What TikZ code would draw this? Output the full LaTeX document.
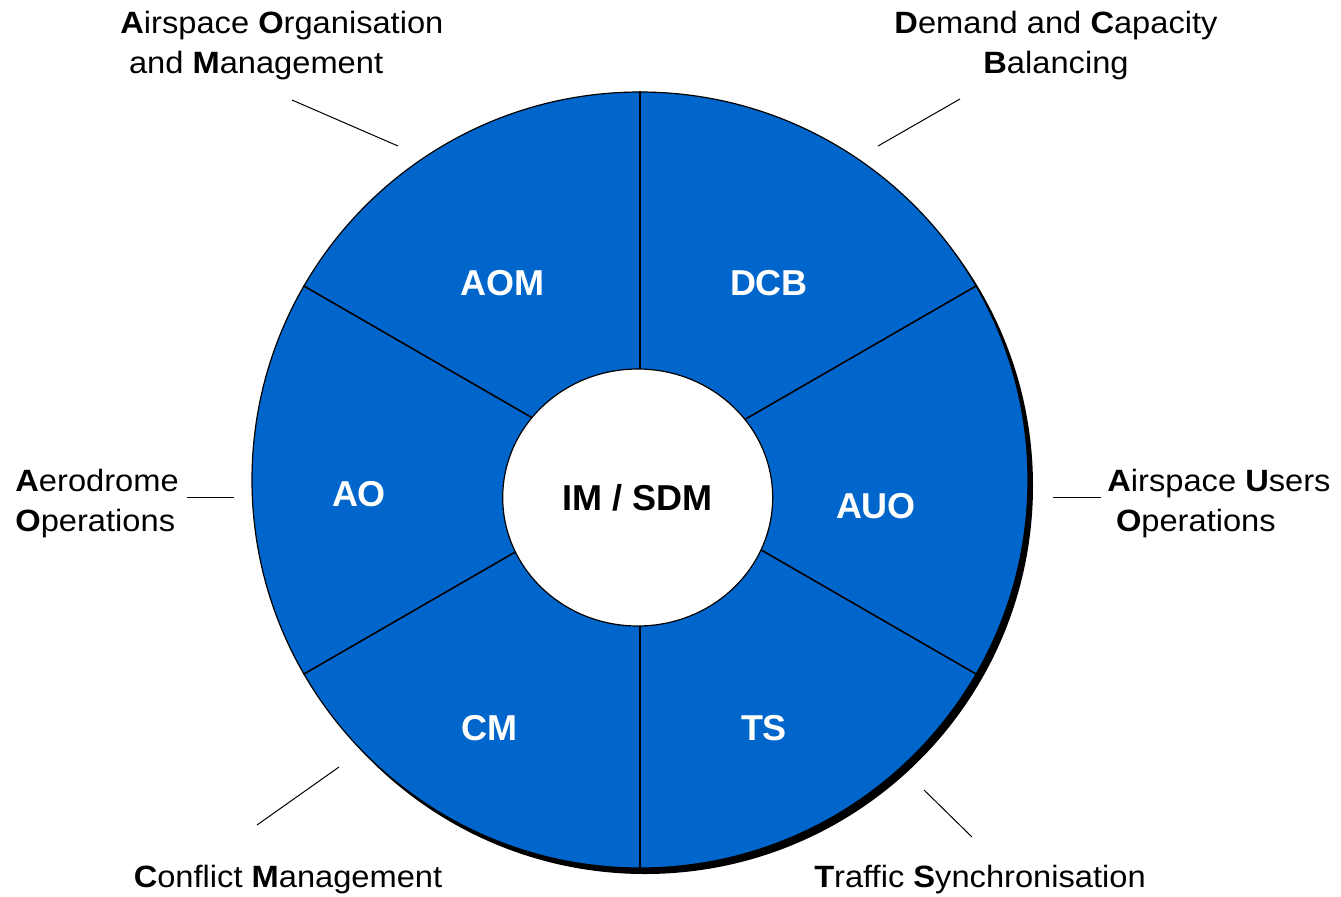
\documentclass[tikz,border=0pt]{standalone}
\usepackage{fontspec}
\setmainfont{Liberation Sans}
\newfontfamily\namefont[FakeStretch=1.06]{Liberation Sans}
\usetikzlibrary{shapes.geometric}
\definecolor{segblue}{RGB}{0,102,204}
\tikzset{
  ring/.style={circle, minimum size=388pt, inner sep=0pt},
  spoke/.style={draw=black, line width=0.8pt},
  segtext/.style={text=white, font=\fontsize{18}{22}\selectfont\bfseries},
  longname/.style={inner sep=0pt, font=\namefont\fontsize{15.4}{19.75}\selectfont},
  leader/.style={draw=black, line width=0.5pt},
}

\begin{document}
\begin{tikzpicture}[x=0.5pt,y=-0.5pt]
    \useasboundingbox (0,0) rectangle (1341,896);

    \node[ring, fill=black] (shadow) at (645,486) {};
    \node[ring, fill=segblue, draw=black, line width=0.6pt] (wheel) at (640,480) {};

    \foreach \a in {90,30,-30,-90,-150,150}
        \draw[spoke] (wheel.\a) -- (wheel.center);

    \node[ellipse, fill=white, draw=black, line width=0.6pt, inner sep=0pt,
          minimum width=135pt, minimum height=128.5pt,
          font=\fontsize{18}{22}\selectfont\bfseries] (hub) at (637.7,497.5) {IM / SDM};

    \node[segtext] (aom) at (502,283) {AOM};
    \node[segtext] (dcb) at (769,283) {DCB};
    \node[segtext] (ao)  at (359,494) {AO};
    \node[segtext] (auo) at (876,506) {AUO};
    \node[segtext] (cm)  at (489,728) {CM};
    \node[segtext] (ts)  at (764,728) {TS};

    \node[longname, anchor=north west, align=left] (aomname) at (120,11)
        {\textbf{A}irspace \textbf{O}rganisation\\\hspace*{0.28em}and \textbf{M}anagement};
    \node[longname, anchor=north, align=center] (dcbname) at (1056,11)
        {\textbf{D}emand and \textbf{C}apacity\\\textbf{B}alancing};
    \node[longname, anchor=north west, align=left] (aoname) at (15,469)
        {\textbf{A}erodrome\\\textbf{O}perations};
    \node[longname, anchor=north west, align=left] (auoname) at (1107,469)
        {\textbf{A}irspace \textbf{U}sers\\\hspace*{0.28em}\textbf{O}perations};
    \node[longname, anchor=base] (cmname) at (288,887)
        {\textbf{C}onflict \textbf{M}anagement};
    \node[longname, anchor=base] (tsname) at (980,887)
        {\textbf{T}raffic \textbf{S}ynchronisation};

    \coordinate (aom1) at (292,100);  \coordinate (aom2) at (398,146);
    \coordinate (dcb1) at (960,99);   \coordinate (dcb2) at (878,146);
    \coordinate (ao1)  at (187,497);  \coordinate (ao2)  at (234,497);
    \coordinate (auo1) at (1101,497); \coordinate (auo2) at (1053,497);
    \coordinate (cm1)  at (257,825);  \coordinate (cm2)  at (339,767);
    \coordinate (ts1)  at (972,837);  \coordinate (ts2)  at (924,790);

    \foreach \n in {aom,dcb,ao,auo,cm,ts}
        \draw[leader] (\n1) -- (\n2);
\end{tikzpicture}
\end{document}
